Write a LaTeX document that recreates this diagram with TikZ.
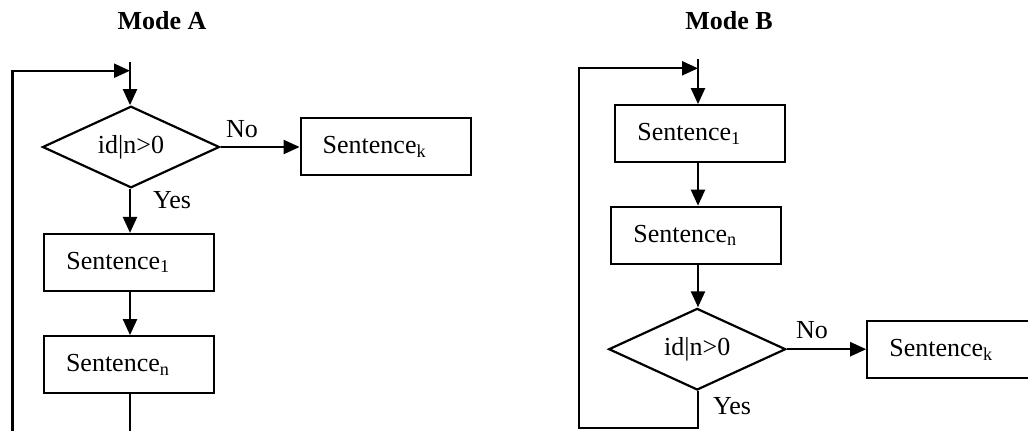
\documentclass[tikz,border=0pt]{standalone}
\usepackage{fontspec}
\setmainfont{Liberation Serif}
\usetikzlibrary{shapes.geometric,arrows.meta}
\begin{document}
\begin{tikzpicture}[x=0.5pt,y=-0.5pt,
  every node/.style={font=\fontsize{13}{15}\selectfont},
  title/.style={font=\fontsize{13}{15}\selectfont\bfseries},
  box/.style={draw, line width=1.1pt, rectangle, minimum width=85pt, minimum height=28.5pt,
    inner xsep=11pt, inner ysep=0pt, text width=63pt, align=left},
  dia/.style={draw, diamond, line width=1.1pt, inner sep=0pt, aspect=2,
    minimum width=88.5pt, minimum height=40.8pt},
  arr/.style={line width=1.1pt, -{Triangle[length=8pt,width=7pt]}},
  lbl/.style={inner sep=0pt}]
\useasboundingbox (0,0) rectangle (1028,430);
\clip (0,0) rectangle (1028,430);

% ---------- Mode A ----------
\node[title] (tA) at (162,21) {Mode A};
\coordinate (inA) at (130,62);
\coordinate (jA) at (130,70.7);
\coordinate (lA) at (12.5,445);
\node[dia] (dA) at (131,147) {id|n>0};
\node[box] (sAk) at (385.7,146.7) {Sentence\textsubscript{k}};
\node[box] (sA1) at (129.3,262.5) {Sentence\textsubscript{1}};
\node[box] (sAn) at (129,364.7) {Sentence\textsubscript{n}};
\node[lbl] (noA) at (242,129) {No};
\node[lbl] (yesA) at (172,200) {Yes};

\draw[arr] (inA) -- (inA |- dA.north);
\draw[arr] (dA.east) -- (sAk.west |- dA.east);
\draw[arr] (dA.south -| inA) -- (sA1.north -| inA);
\draw[arr] (sA1.south -| inA) -- (sAn.north -| inA);
\draw[arr] (sAn.south -| inA) |- (lA) |- (jA);

% ---------- Mode B ----------
\node[title] (tB) at (729,21) {Mode B};
\coordinate (inB) at (698,59);
\coordinate (jB) at (698,68.3);
\coordinate (lB) at (579.3,428.3);
\node[box] (sB1) at (700.3,133.7) {Sentence\textsubscript{1}};
\node[box] (sBn) at (696.3,235.3) {Sentence\textsubscript{n}};
\node[dia] (dB) at (697.2,349.2) {id|n>0};
\node[box] (sBk) at (952.3,349.7) {Sentence\textsubscript{k}};
\node[lbl] (noB) at (812,330) {No};
\node[lbl] (yesB) at (732,406) {Yes};

\draw[arr] (inB) -- (inB |- sB1.north);
\draw[arr] (sB1.south -| inB) -- (sBn.north -| inB);
\draw[arr] (sBn.south -| inB) -- (dB.north -| inB);
\draw[arr] (dB.east) -- (sBk.west |- dB.east);
\draw[arr] (dB.south -| inB) |- (lB) |- (jB);
\end{tikzpicture}
\end{document}
